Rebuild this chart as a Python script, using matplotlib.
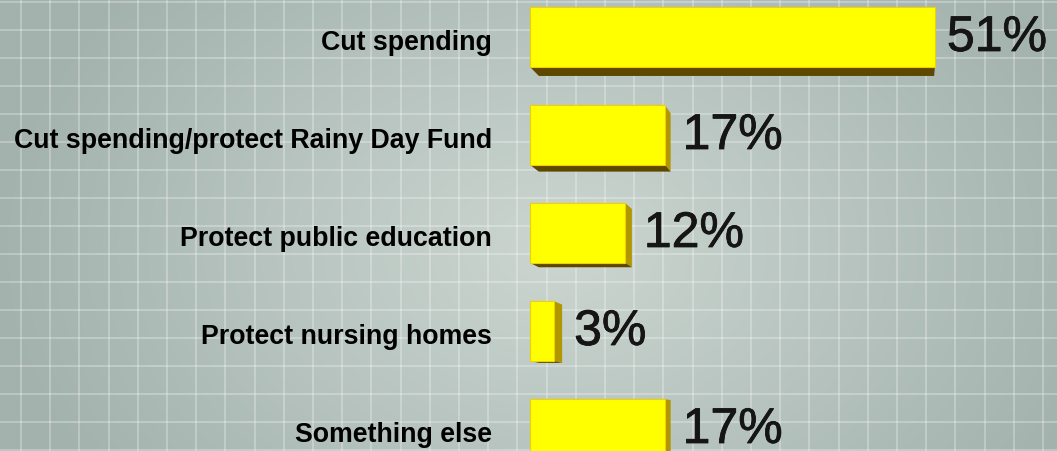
import numpy as np
import matplotlib
matplotlib.use('Agg')
import matplotlib.pyplot as plt
from matplotlib.patches import Polygon
import matplotlib.patheffects as pe

# Data
categories = ['Cut spending', 'Cut spending/protect Rainy Day Fund', 'Protect public education',
              'Protect nursing homes', 'Something else']
values = [51, 17, 12, 3, 17]
value_labels = ['51%', '17%', '12%', '3%', '17%']

W, H = 1057, 452
fig = plt.figure(figsize=(W / 100, H / 100), dpi=100)

# background: radial gradient + grid
bg = fig.add_axes([0, 0, 1, 1])
yy, xx = np.mgrid[0:H, 0:W]
r = np.sqrt(((xx - 560) / 560.0) ** 2 + ((yy - 250) / 400.0) ** 2)
r = np.clip(r, 0, 1)
c_in = np.array([0.80, 0.84, 0.82])
c_out = np.array([0.64, 0.70, 0.68])
img = c_in[None, None, :] * (1 - r[..., None]) + c_out[None, None, :] * r[..., None]
bg.imshow(img, extent=[0, W, H, 0], aspect='auto')
for gx in np.arange(21, W, 29.2):
    bg.axvline(gx, color='white', alpha=0.35, lw=1.1)
for gy in np.arange(3, H, 28.0):
    bg.axhline(gy, color='white', alpha=0.35, lw=1.1)
bg.set_xlim(0, W)
bg.set_ylim(H, 0)
bg.axis('off')

# main axes: x=0 at pixel 530, 7.94 px per percent
ax = fig.add_axes([0, 0, 1, 1])
ax.patch.set_alpha(0)
px = 7.94
x0 = 530
ax.set_xlim(-x0 / px, (W - x0) / px)
top, step = 38, 98
ax.set_ylim((H - top) / step, -top / step)
ax.axis('off')

ypos = np.arange(len(categories))
bh = 0.61
# perspective extrusion toward a vanishing point
vx, vy, k = (900 - x0) / px, (446 - top) / step, 0.024


def back(p):
    return [p[0] + k * (vx - p[0]), p[1] + k * (vy - p[1])]


for y, v in zip(ypos, values):
    tl, tr = [0, y - bh / 2], [v, y - bh / 2]
    bl, br = [0, y + bh / 2], [v, y + bh / 2]
    if vx > v:
        ax.add_patch(Polygon([tr, back(tr), back(br), br], closed=True,
                             facecolor='#b09600', edgecolor='none', zorder=2))
    if vy > y + bh / 2:
        ax.add_patch(Polygon([bl, br, back(br), back(bl)], closed=True,
                             facecolor='#5e4800', edgecolor='none', zorder=2))
ax.barh(ypos, values, height=bh, color='#ffff00', edgecolor='#f0d000', lw=0.8, zorder=3)

for y, cat, v, lab in zip(ypos, categories, values, value_labels):
    ax.text(-38 / px, y + 0.05, cat, ha='right', va='center', fontsize=19.3, fontweight='bold',
            family='Liberation Sans', color='black')
    ext = max(k * (vx - v), 0)
    ax.text(v + ext + 12 / px, y + 0.01, lab, ha='left', va='center', fontsize=36,
            family='Liberation Sans', color='#151515',
            path_effects=[pe.withStroke(linewidth=0.6, foreground='#151515')])

fig.savefig('out.png', dpi=100)
